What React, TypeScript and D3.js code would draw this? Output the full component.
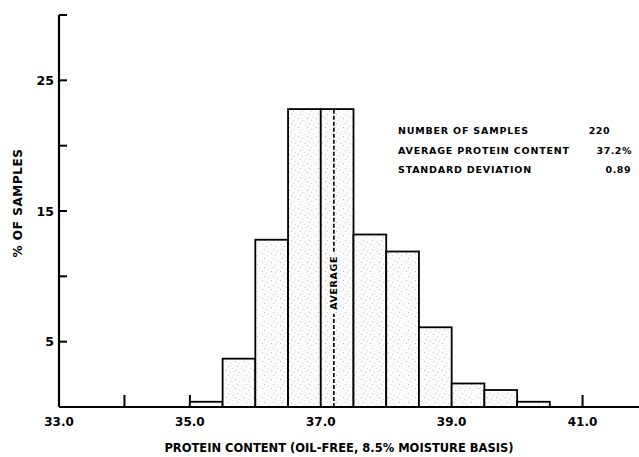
import React from "react";
import * as d3 from "d3";

// histogram bins (lower edge, % protein) and % of samples
const binStarts = [35.0, 35.5, 36.0, 36.5, 37.0, 37.5, 38.0, 38.5, 39.0, 39.5, 40.0];
const binPercents = [0.4, 3.7, 12.8, 22.8, 22.8, 13.2, 11.9, 6.1, 1.8, 1.3, 0.4];
const binWidth = 0.5;
const averageProtein = 37.2;

const xTicks = [33, 34, 35, 36, 37, 38, 39, 40, 41, 42];
const xLabels = [33, 35, 37, 39, 41];
const yTicks = [5, 10, 15, 20, 25, 30];
const yLabels = [5, 15, 25];

const statLabels = ["NUMBER OF SAMPLES", "AVERAGE PROTEIN CONTENT", "STANDARD DEVIATION"];
const statValues = ["220", "37.2%", "0.89"];
const statValueEnds = [610, 632, 631];

const W = 639, H = 457;
const font = "'DejaVu Sans', sans-serif";

export default function App() {
  const x = d3.scaleLinear().domain([33, 42]).range([59, 648]);
  const y = d3.scaleLinear().domain([0, 30]).range([407, 15]);
  const fmt = d3.format(".1f");

  const avgX = x(averageProtein);
  const avgTop = y(d3.max(binPercents) as number);
  const labelMid = y(9.5);

  return (
    <svg width={W} height={H} style={{ position: "absolute", left: 0, top: 0, background: "#fff" }}>
      <defs>
        <pattern id="stip" width={9} height={9} patternUnits="userSpaceOnUse">
          <rect width={9} height={9} fill="#fdfdfd" />
          <rect x={1} y={1} width={1} height={1} fill="#b8b8b8" />
          <rect x={5} y={3} width={1} height={1} fill="#cfcfcf" />
          <rect x={3} y={6} width={1} height={1} fill="#c2c2c2" />
          <rect x={7} y={8} width={1} height={1} fill="#d8d8d8" />
        </pattern>
      </defs>

      {/* x ticks */}
      {xTicks.map((t) => (
        <line key={t} x1={x(t)} x2={x(t)} y1={y(0)} y2={y(0) - 12} stroke="#000" strokeWidth={2} />
      ))}

      {/* bars */}
      {binStarts.map((b, i) => (
        <rect
          key={b}
          x={x(b)}
          y={y(binPercents[i])}
          width={x(b + binWidth) - x(b)}
          height={y(0) - y(binPercents[i])}
          fill="url(#stip)"
          stroke="#000"
          strokeWidth={1.8}
        />
      ))}

      {/* average line, broken around its label */}
      <line x1={avgX} x2={avgX} y1={y(0)} y2={labelMid + 31} stroke="#000" strokeWidth={1.6} strokeDasharray="4,2" />
      <line x1={avgX} x2={avgX} y1={labelMid - 31} y2={avgTop} stroke="#000" strokeWidth={1.6} strokeDasharray="4,2" />
      <text
        transform={`translate(${avgX + 3.5},${labelMid}) rotate(-90)`}
        textAnchor="middle"
        fontFamily={font}
        fontSize={9.5}
        fontWeight="bold"
        letterSpacing={0.6}
      >
        AVERAGE
      </text>

      {/* axes */}
      <line x1={x(33)} x2={W} y1={y(0)} y2={y(0)} stroke="#000" strokeWidth={2.2} />
      <line x1={x(33)} x2={x(33)} y1={y(0)} y2={y(30)} stroke="#000" strokeWidth={2.2} />
      {yTicks.map((t) => (
        <line key={t} x1={x(33)} x2={x(33) + 8} y1={y(t)} y2={y(t)} stroke="#000" strokeWidth={2} />
      ))}
      {yLabels.map((t) => (
        <text key={t} x={x(33) - 5} y={y(t) + 4.5} textAnchor="end" fontFamily={font} fontSize={12.5} fontWeight="bold">
          {t}
        </text>
      ))}
      {xLabels.map((t) => (
        <text key={t} x={x(t)} y={y(0) + 19} textAnchor="middle" fontFamily={font} fontSize={12} fontWeight="bold">
          {fmt(t)}
        </text>
      ))}

      <text x={339} y={452} textAnchor="middle" fontFamily={font} fontSize={11.5} fontWeight="bold">
        PROTEIN CONTENT (OIL-FREE, 8.5% MOISTURE BASIS)
      </text>
      <text transform="translate(22,203) rotate(-90)" textAnchor="middle" fontFamily={font} fontSize={12} fontWeight="bold" letterSpacing={0.6}>
        % OF SAMPLES
      </text>

      {/* summary statistics */}
      {statLabels.map((s, i) => (
        <g key={s}>
          <text x={398} y={134 + i * 19.5} fontFamily={font} fontSize={9.5} fontWeight="bold" letterSpacing={0.8}>
            {s}
          </text>
          <text x={statValueEnds[i]} y={134 + i * 19.5} textAnchor="end" fontFamily={font} fontSize={9.5} fontWeight="bold" letterSpacing={0.5}>
            {statValues[i]}
          </text>
        </g>
      ))}
    </svg>
  );
}
